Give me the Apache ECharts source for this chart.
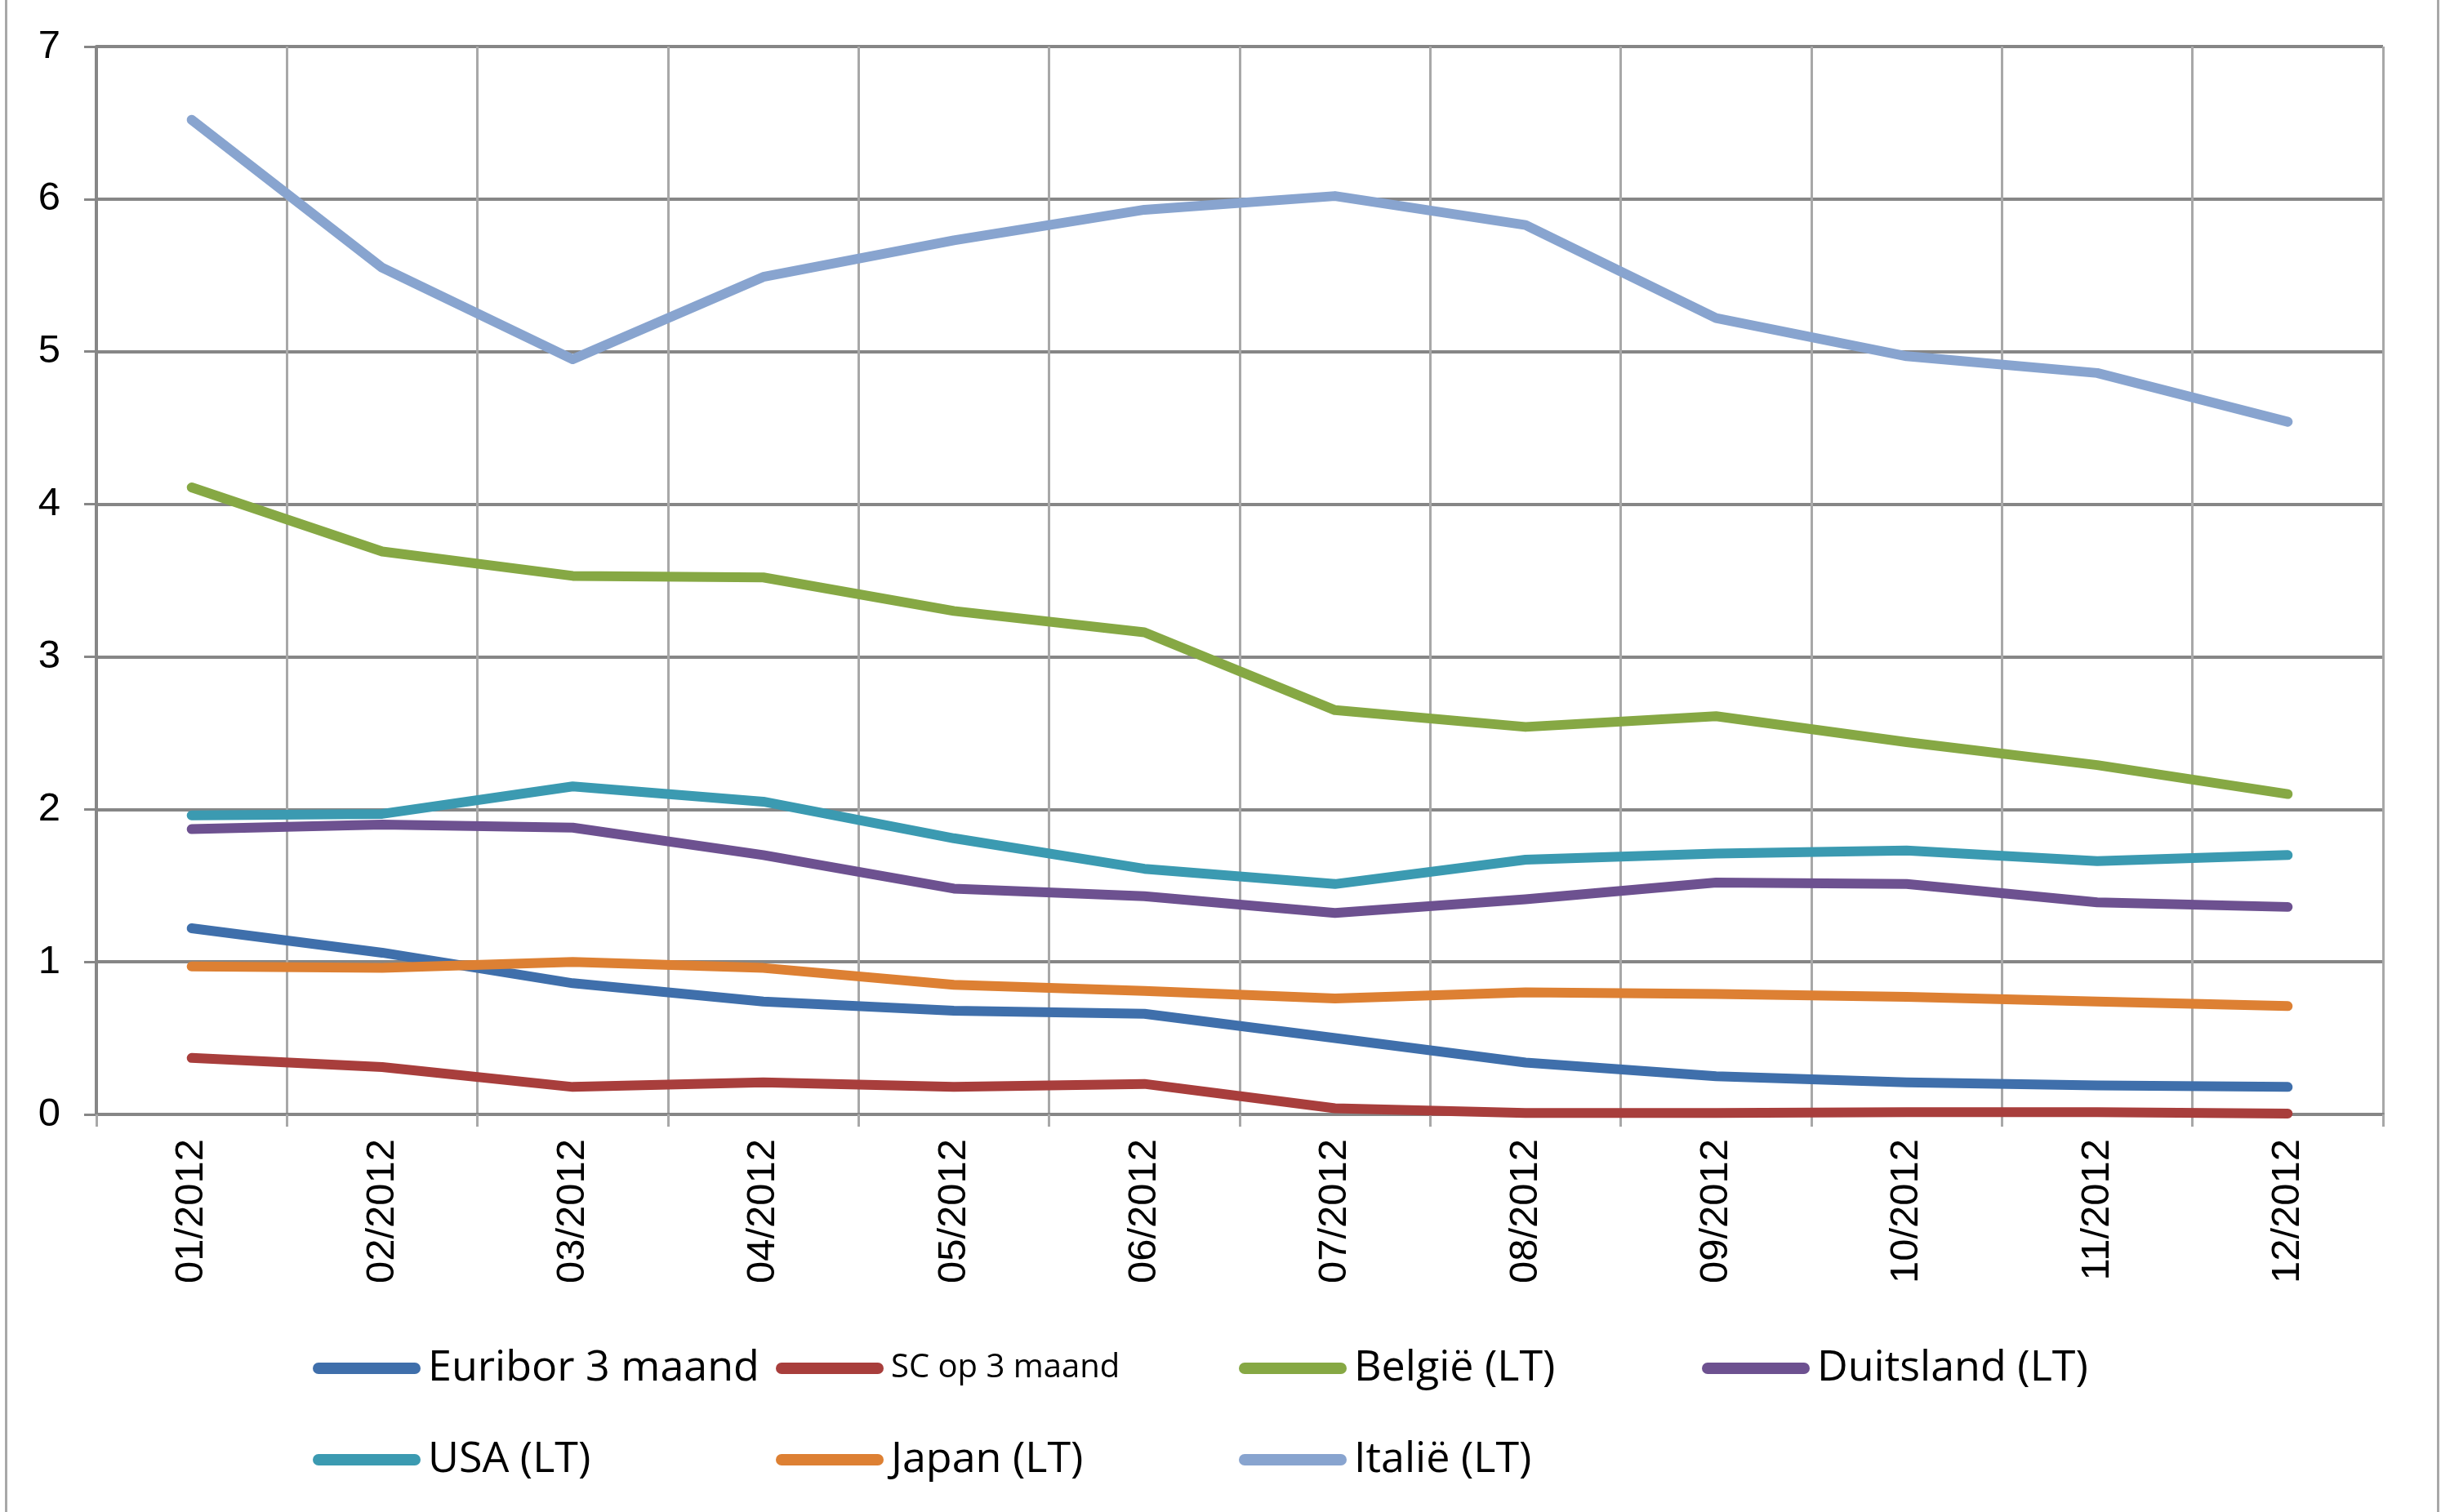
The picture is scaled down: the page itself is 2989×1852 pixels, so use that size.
<!DOCTYPE html>
<html>
<head>
<meta charset="utf-8">
<title>Rentevoeten 2012</title>
<script src="https://cdn.jsdelivr.net/npm/echarts@6/dist/echarts.min.js"></script>
<style>
  html, body { margin: 0; padding: 0; background: #ffffff; }
  #chart { width: 2989px; height: 1852px; }
</style>
</head>
<body>
<div id="chart"></div>
<script>
// Maanden (x-as)
const months = ['01/2012', '02/2012', '03/2012', '04/2012', '05/2012', '06/2012',
                '07/2012', '08/2012', '09/2012', '10/2012', '11/2012', '12/2012'];

// Rentevoeten in %
const euribor3m  = [1.22, 1.06, 0.86, 0.74, 0.68, 0.66, 0.50, 0.34, 0.25, 0.21, 0.19, 0.18];
const sc3m       = [0.37, 0.31, 0.18, 0.21, 0.18, 0.20, 0.04, 0.01, 0.01, 0.015, 0.015, 0.005];
const belgie     = [4.11, 3.69, 3.53, 3.52, 3.30, 3.16, 2.65, 2.54, 2.61, 2.44, 2.29, 2.10];
const duitsland  = [1.87, 1.90, 1.88, 1.70, 1.48, 1.43, 1.32, 1.41, 1.52, 1.51, 1.39, 1.36];
const usa        = [1.96, 1.97, 2.15, 2.05, 1.81, 1.61, 1.51, 1.67, 1.71, 1.73, 1.66, 1.70];
const japan      = [0.97, 0.96, 1.00, 0.96, 0.85, 0.81, 0.76, 0.80, 0.79, 0.77, 0.74, 0.71];
const italie     = [6.52, 5.55, 4.95, 5.49, 5.73, 5.93, 6.02, 5.83, 5.22, 4.97, 4.86, 4.54];

const seriesNames = ['Euribor 3 maand', 'SC op 3 maand', 'België (LT)', 'Duitsland (LT)',
                     'USA (LT)', 'Japan (LT)', 'Italië (LT)'];
const seriesData  = [euribor3m, sc3m, belgie, duitsland, usa, japan, italie];
const seriesColors = ['#3f6fab', '#a83e3c', '#86a844', '#6d5190', '#3b9ab1', '#dd8033', '#88a4cf'];

// y-as: 0 t/m 7
const yMin = 0, yMax = 7, yStep = 1;

const chart = echarts.init(document.getElementById('chart'), null, { renderer: 'canvas' });

const axisDark = '#868686';
const gridLight = '#a8a8a8';
const labelFont = '"Liberation Sans", Arial, sans-serif';
const legendFont = '"Open Sans", "Liberation Sans", sans-serif';

// capsule-shaped legend marker
const capsule = 'path://M7,0 L125,0 A7,7 0 0 1 125,14 L7,14 A7,7 0 0 1 7,0 Z';

function legendBlock(names, top) {
  return {
    show: true,
    top: top,
    left: 378,
    orient: 'horizontal',
    itemWidth: 132,
    itemHeight: 14,
    itemGap: 16,
    icon: capsule,
    selectedMode: false,
    textStyle: {
      fontFamily: legendFont,
      fontSize: 52,
      color: '#000000',
      width: 410,
      lineHeight: 60,
      padding: [0, 0, 0, 4]
    },
    data: names.map(n => n === 'SC op 3 maand'
      ? { name: n, textStyle: { fontSize: 40 } }
      : { name: n })
  };
}

const option = {
  backgroundColor: '#ffffff',
  animation: false,
  color: seriesColors,
  grid: { left: 118, right: 71, top: 57, bottom: 487, containLabel: false },
  legend: [
    legendBlock(seriesNames.slice(0, 4), 1641),
    legendBlock(seriesNames.slice(4), 1753)
  ],
  xAxis: {
    type: 'category',
    data: months,
    boundaryGap: true,
    axisLine: { show: true, lineStyle: { color: axisDark, width: 4 } },
    axisTick: { show: true, length: 15, interval: 0, lineStyle: { color: gridLight, width: 3 } },
    splitLine: { show: true, interval: 0, lineStyle: { color: gridLight, width: 3 } },
    axisLabel: {
      rotate: 90,
      interval: 0,
      margin: 30,
      fontFamily: labelFont,
      fontSize: 49,
      color: '#000000'
    }
  },
  yAxis: {
    type: 'value',
    min: yMin,
    max: yMax,
    interval: yStep,
    axisLine: { show: true, lineStyle: { color: axisDark, width: 4 } },
    axisTick: { show: true, length: 15, lineStyle: { color: axisDark, width: 3 } },
    splitLine: { show: true, lineStyle: { color: axisDark, width: 4 } },
    axisLabel: {
      margin: 44,
      fontFamily: labelFont,
      fontSize: 49,
      color: '#000000'
    }
  },
  graphic: [{
    type: 'rect',
    silent: true,
    shape: { x: 7.5, y: -20, width: 2978, height: 1900 },
    style: { fill: 'none', stroke: '#a8a8a8', lineWidth: 3 }
  }],
  series: seriesNames.map((name, i) => ({
    name: name,
    type: 'line',
    data: seriesData[i],
    showSymbol: false,
    symbol: 'none',
    lineStyle: { color: seriesColors[i], width: 12, cap: 'round', join: 'round' },
    itemStyle: { color: seriesColors[i] },
    z: 3 + i
  }))
};

chart.setOption(option);
</script>
</body>
</html>
